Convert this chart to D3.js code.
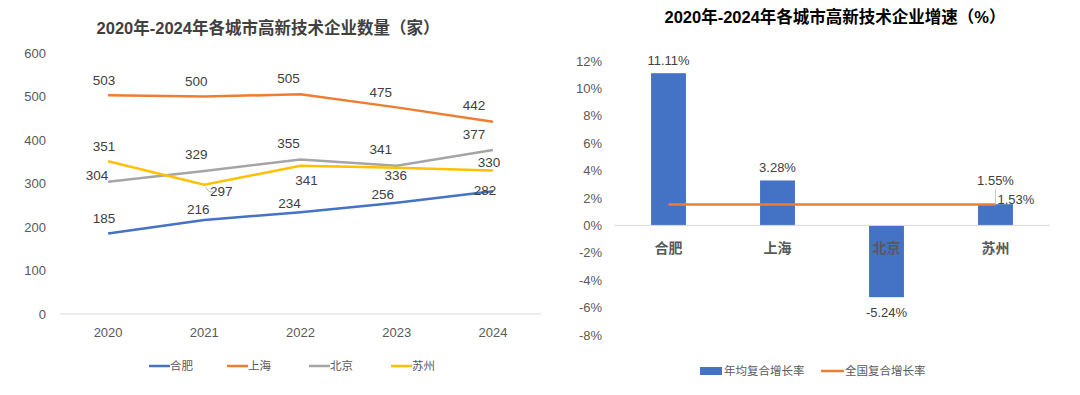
<!DOCTYPE html>
<html>
<head>
<meta charset="utf-8">
<script src="https://cdn.jsdelivr.net/npm/d3@7"></script>
<style>
  body { margin: 0; background: #fff; }
  svg text { font-family: "Liberation Sans", Arial, "Noto Sans CJK SC", sans-serif; }
</style>
</head>
<body>
<div id="chart-area"></div>
<script>
// left chart data
var years = ["2020", "2021", "2022", "2023", "2024"];
var cities = ["合肥", "上海", "北京", "苏州"];
var hefei = [185, 216, 234, 256, 282];
var shanghai = [503, 500, 505, 475, 442];
var beijing = [304, 329, 355, 341, 377];
var suzhou = [351, 297, 341, 336, 330];
var countTicks = [0, 100, 200, 300, 400, 500, 600];

// right chart data
var growth = [11.11, 3.28, -5.24, 1.55];
var national = [1.53, 1.53, 1.53, 1.53];
var pctTicks = [-8, -6, -4, -2, 0, 2, 4, 6, 8, 10, 12];

var colors = ["#4472C4", "#ED7D31", "#A5A5A5", "#FFC000"];

var svg = d3.select("#chart-area").append("svg")
    .attr("width", 1080)
    .attr("height", 395);

// ---------- left: line chart ----------
var x = d3.scaleBand().domain(years).range([60, 541]);
var y = d3.scaleLinear().domain([0, 600]).range([314, 53]);

svg.append("text")
    .attr("x", 268).attr("y", 34)
    .attr("text-anchor", "middle")
    .attr("font-size", 16.5).attr("font-weight", "bold")
    .attr("fill", "#404040")
    .text("2020年-2024年各城市高新技术企业数量（家）");

svg.append("line")
    .attr("x1", 60).attr("x2", 541)
    .attr("y1", y(0)).attr("y2", y(0))
    .attr("stroke", "#d9d9d9");

svg.append("g").selectAll("text")
    .data(countTicks).enter().append("text")
    .attr("x", 46).attr("y", d => y(d) + 4.5)
    .attr("text-anchor", "end")
    .attr("font-size", 13).attr("fill", "#595959")
    .text(d => d);

svg.append("g").selectAll("text")
    .data(years).enter().append("text")
    .attr("x", d => x(d) + x.bandwidth() / 2).attr("y", 337)
    .attr("text-anchor", "middle")
    .attr("font-size", 13).attr("fill", "#595959")
    .text(d => d);

var series = [hefei, shanghai, beijing, suzhou];
var line = d3.line()
    .x((d, i) => x(years[i]) + x.bandwidth() / 2)
    .y(d => y(d));

series.forEach((s, k) => {
    svg.append("path")
        .attr("d", line(s))
        .attr("fill", "none")
        .attr("stroke", colors[k])
        .attr("stroke-width", 2.5);
});

// label placement: [dx, dy] relative to the point
var place = [
    [[-4, -15], [-6, -11], [-11, -9], [-14, -8], [-8, -1]],
    [[-4, -15], [-8, -15], [-12, -16], [-16, -15], [-19, -16]],
    [[-11, -6], [-8, -16], [-12, -16], [-16, -16], [-19, -16]],
    [[-4, -15], [17, 7], [6, 15], [-1, 8], [-4, -8]]
];

series.forEach((s, k) => {
    svg.append("g").selectAll("text")
        .data(s).enter().append("text")
        .attr("x", (d, i) => x(years[i]) + x.bandwidth() / 2 + place[k][i][0])
        .attr("y", (d, i) => y(d) + place[k][i][1])
        .attr("text-anchor", "middle")
        .attr("dominant-baseline", "central")
        .attr("font-size", 13.5).attr("fill", "#404040")
        .text(d => d);
});

// leader for 297
svg.append("path")
    .attr("d", "M" + (x("2021") + x.bandwidth() / 2 + 1) + "," + (y(297) + 2) +
        " l4,5 l4,0")
    .attr("fill", "none").attr("stroke", "#a6a6a6").attr("stroke-width", 0.8);

var legL = svg.append("g").selectAll("g")
    .data(cities).enter().append("g")
    .attr("transform", (d, i) => "translate(" + [149, 227, 309, 391][i] + ",366)");
legL.append("line")
    .attr("x1", 0).attr("x2", 21)
    .attr("stroke", (d, i) => colors[i]).attr("stroke-width", 2.5);
legL.append("text")
    .attr("x", 21).attr("y", 4)
    .attr("font-size", 11.5).attr("fill", "#595959")
    .text(d => d);

// ---------- right: bar chart ----------
var xb = d3.scaleBand().domain(cities).range([614, 1050]).paddingInner(0.68).paddingOuter(0.34);
var yb = d3.scaleLinear().domain([-8, 12]).range([335, 61]);

svg.append("text")
    .attr("x", 835).attr("y", 23)
    .attr("text-anchor", "middle")
    .attr("font-size", 16.5).attr("font-weight", "bold")
    .attr("fill", "#000")
    .text("2020年-2024年各城市高新技术企业增速（%）");

svg.append("g").selectAll("text")
    .data(pctTicks).enter().append("text")
    .attr("x", 602).attr("y", d => yb(d) + 4.5)
    .attr("text-anchor", "end")
    .attr("font-size", 13).attr("fill", "#595959")
    .text(d => d + "%");

svg.append("g").selectAll("rect")
    .data(growth).enter().append("rect")
    .attr("x", (d, i) => xb(cities[i]))
    .attr("width", xb.bandwidth())
    .attr("y", d => yb(Math.max(0, d)))
    .attr("height", d => Math.abs(yb(d) - yb(0)))
    .attr("fill", colors[0]);

svg.append("line")
    .attr("x1", 614).attr("x2", 1050)
    .attr("y1", yb(0)).attr("y2", yb(0))
    .attr("stroke", "#d9d9d9");

svg.append("g").selectAll("text")
    .data(cities).enter().append("text")
    .attr("x", d => xb(d) + xb.bandwidth() / 2).attr("y", yb(0) + 28)
    .attr("text-anchor", "middle")
    .attr("font-size", 14).attr("font-weight", "bold").attr("fill", "#595959")
    .text(d => d);

var lineB = d3.line()
    .x((d, i) => xb(cities[i]) + xb.bandwidth() / 2)
    .y(d => yb(d));
svg.append("path")
    .attr("d", lineB(national))
    .attr("fill", "none")
    .attr("stroke", colors[1]).attr("stroke-width", 2.5);

var barPlace = [[0, -13], [0, -13], [0, 15], [0, -24]];
svg.append("g").selectAll("text")
    .data(growth).enter().append("text")
    .attr("x", (d, i) => xb(cities[i]) + xb.bandwidth() / 2 + barPlace[i][0])
    .attr("y", (d, i) => yb(Math.max(0, d)) + (d < 0 ? Math.abs(yb(d) - yb(0)) : 0) + barPlace[i][1])
    .attr("text-anchor", "middle")
    .attr("dominant-baseline", "central")
    .attr("font-size", 13).attr("fill", "#404040")
    .text(d => d.toFixed(2) + "%");

var lastX = xb(cities[3]) + xb.bandwidth() / 2;
svg.append("line")
    .attr("x1", lastX).attr("x2", lastX)
    .attr("y1", yb(growth[3]) - 15).attr("y2", yb(national[3]))
    .attr("stroke", "#bfbfbf").attr("stroke-width", 0.8);
svg.append("text")
    .attr("x", lastX + 2).attr("y", yb(national[3]) - 5)
    .attr("dominant-baseline", "central")
    .attr("font-size", 13).attr("fill", "#404040")
    .text(national[3].toFixed(2) + "%");

var legR = svg.append("g").attr("transform", "translate(700,371)");
legR.append("rect")
    .attr("x", 0).attr("y", -4).attr("width", 22).attr("height", 8)
    .attr("fill", colors[0]);
legR.append("text")
    .attr("x", 24).attr("y", 4)
    .attr("font-size", 11.5).attr("fill", "#595959")
    .text("年均复合增长率");
legR.append("line")
    .attr("x1", 121).attr("x2", 144)
    .attr("stroke", colors[1]).attr("stroke-width", 2.5);
legR.append("text")
    .attr("x", 145).attr("y", 4)
    .attr("font-size", 11.5).attr("fill", "#595959")
    .text("全国复合增长率");
</script>
</body>
</html>
